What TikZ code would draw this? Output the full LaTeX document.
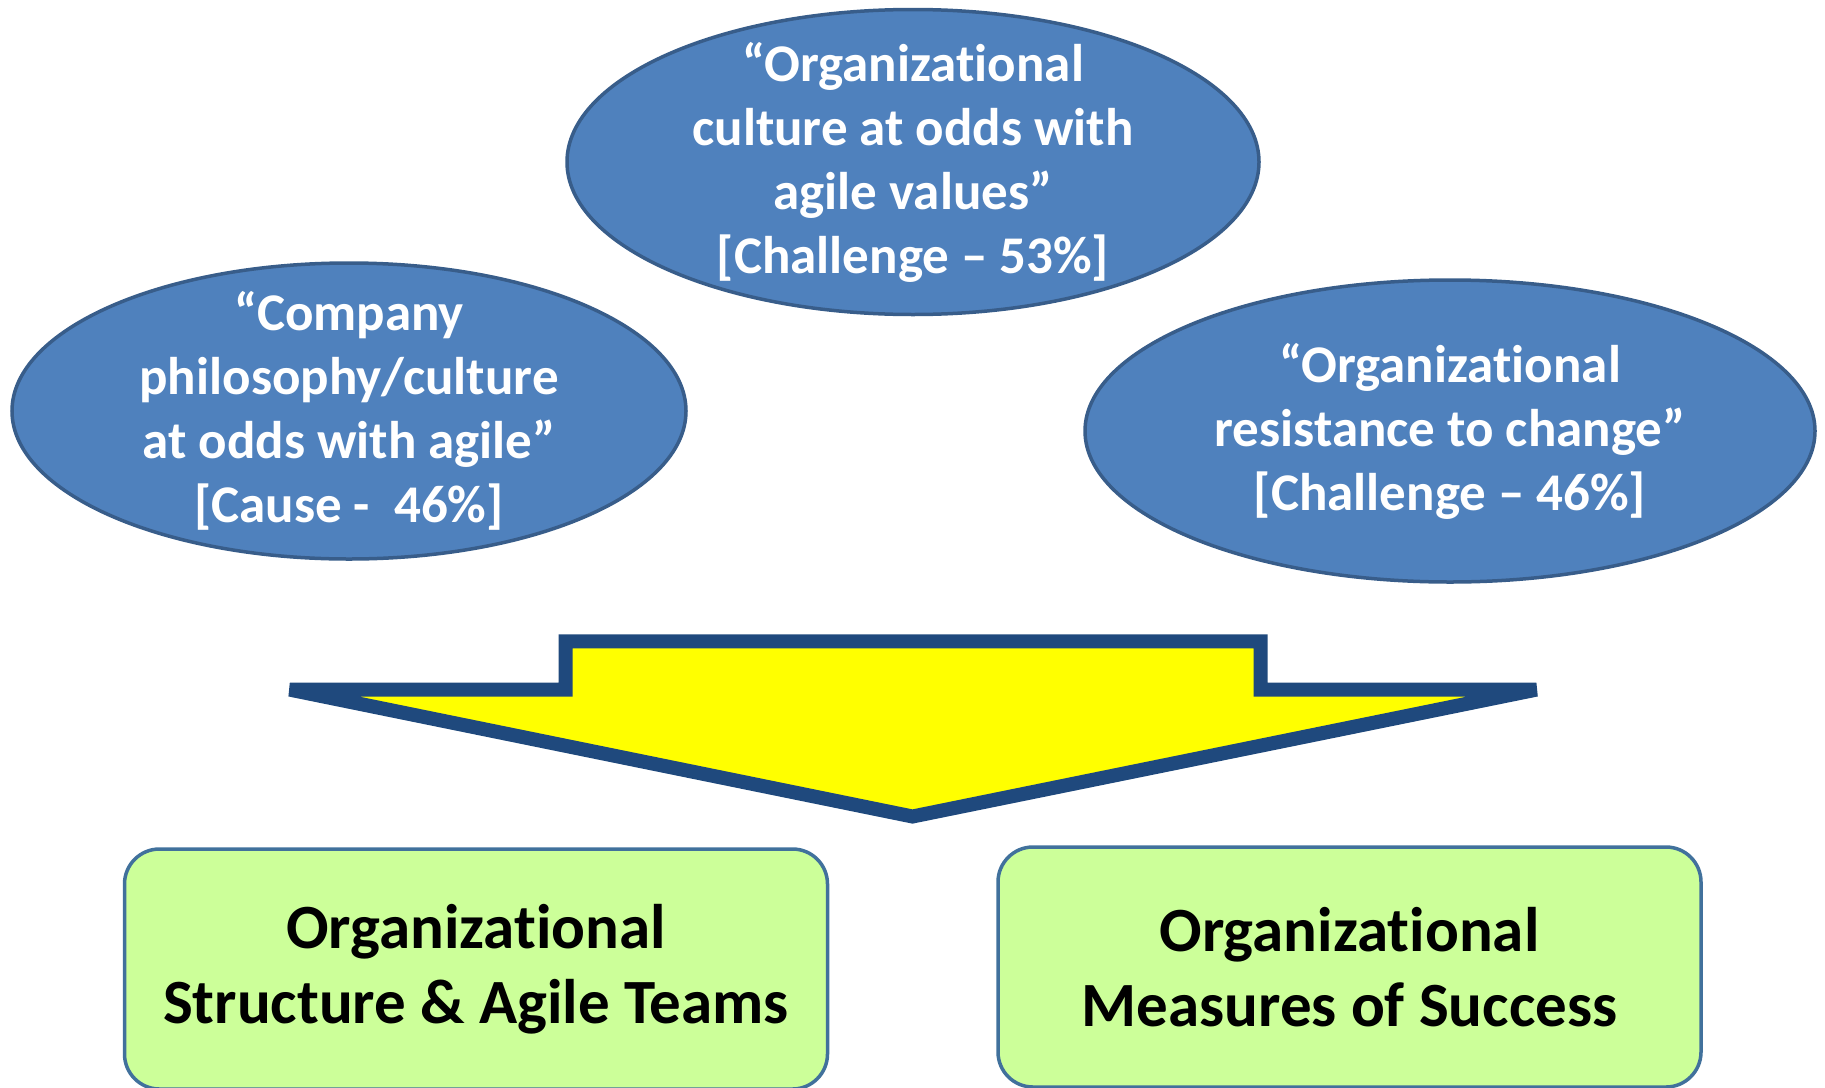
\documentclass[tikz,border=0pt]{standalone}
\usepackage{fontspec}
\setmainfont{Carlito}[Ligatures=NoCommon]
\usetikzlibrary{shapes.geometric}
\definecolor{ovalfill}{HTML}{4F81BD}
\definecolor{ovalline}{HTML}{385D8A}
\definecolor{arrowline}{HTML}{1F497D}
\definecolor{boxfill}{HTML}{CCFF99}
\definecolor{boxline}{HTML}{41719C}
\definecolor{arrowfill}{HTML}{FFFF00}
\tikzset{
  oval/.style={ellipse, fill=ovalfill, draw=ovalline, line width=3.5pt, inner sep=0pt},
  ovaltext/.style={text=white, align=center, inner sep=0pt,
    font=\fontsize{53}{64}\selectfont\bfseries},
  result/.style={rectangle, rounded corners=35pt, fill=boxfill, draw=boxline,
    line width=3.5pt, minimum width=703pt, minimum height=240pt, align=center,
    font=\fontsize{63}{74.5}\selectfont\bfseries},
  bigarrow/.style={fill=arrowfill, draw=arrowline, line width=14pt,
    line join=miter, miter limit=3}
}
\begin{document}
\begin{tikzpicture}[x=1pt, y=-1pt]
\useasboundingbox (0,0) rectangle (1825,1087);

% the three quoted survey findings
\node[oval, minimum width=692pt, minimum height=305pt] (culture) at (913,162) {};
\node[ovaltext] (culturetext) at (culture.center)
  {“Organizational\\culture at odds with\\agile values”\\{}{[Challenge – 53\%]}};

\node[oval, minimum width=674pt, minimum height=296pt] (philosophy) at (349,411) {};
\node[ovaltext] (philosophytext) at (philosophy.center)
  {“Company\\philosophy/culture\\at odds with agile”\\{}{[Cause -\ \ 46\%]}};

\node[oval, minimum width=730pt, minimum height=302pt] (resistance) at (1450,431) {};
\node[ovaltext] (resistancetext) at (resistance.center)
  {“Organizational\\resistance to change”\\{}{[Challenge – 46\%]}};

% the broad arrow pointing down to the two outcomes
\coordinate (stemL) at (565.7,641.3);
\coordinate (stemR) at (1260.5,641.3);
\coordinate (shoulderR) at (1260.5,689.6);
\coordinate (wingR) at (1536.4,689.6);
\coordinate (tip) at (912.5,816.5);
\coordinate (wingL) at (289.8,689.6);
\coordinate (shoulderL) at (565.7,689.6);
\draw[bigarrow] (stemL) -- (stemR) -- (shoulderR) -- (wingR) -- (tip)
  -- (wingL) -- (shoulderL) -- cycle;

% the two outcome boxes
\node[result] (structure) at (476,969) {Organizational\\Structure \& Agile Teams};
\node[result] (measures) at (1349.5,967) {Organizational\\Measures of Success};
\end{tikzpicture}
\end{document}
